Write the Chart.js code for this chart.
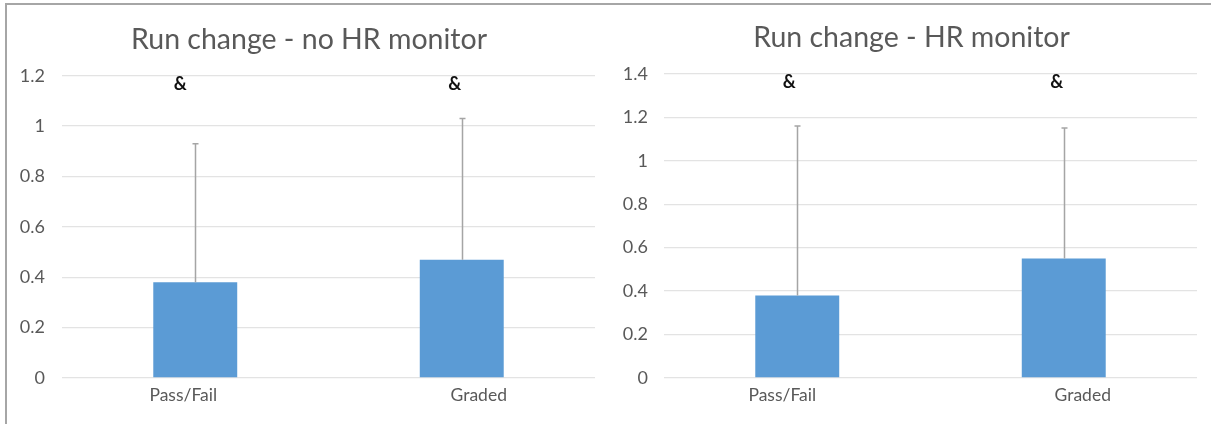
<!DOCTYPE html>
<html>
<head>
<meta charset="utf-8">
<script src="https://cdn.jsdelivr.net/npm/chart.js@4/dist/chart.umd.min.js"></script>
<style>
  html, body { margin: 0; padding: 0; background: #fff; width: 1211px; height: 424px; overflow: hidden; position: relative; }
  .frame { position: absolute; box-sizing: border-box; background: #fff; }
  #frameL { left: 5px; top: 3px; width: 608px; height: 423px; border-left: 2px solid #a6a6a6; border-top: 2px solid #a6a6a6; border-right: 2px solid #9a9a9a; border-bottom: 1px solid #d0d0d0; }
  #frameR { left: 611px; top: 3px; width: 610px; height: 423px; border-top: 2px solid #a6a6a6; border-bottom: 1px solid #d0d0d0; }
  canvas { position: absolute; }
  #chartL { left: 7px; top: 6px; }
  #chartR { left: 613px; top: 6px; }
</style>
</head>
<body>
<div class="frame" id="frameL"></div>
<div class="frame" id="frameR"></div>
<canvas id="chartL" width="604" height="418" style="width:604px;height:418px"></canvas>
<canvas id="chartR" width="598" height="418" style="width:598px;height:418px"></canvas>
<script>
// Categories and values
const categories = ['Pass/Fail', 'Graded'];

const titleNoHR = 'Run change - no HR monitor';
const meanNoHR = [0.38, 0.47];
const sdNoHR = [0.55, 0.56];
const markNoHR = ['&', '&'];
const yMaxNoHR = 1.2;

const titleHR = 'Run change - HR monitor';
const meanHR = [0.38, 0.55];
const sdHR = [0.78, 0.60];
const markHR = ['&', '&'];
const yMaxHR = 1.4;

const yStep = 0.2;

const FONT = 'Lato, "Open Sans", sans-serif';
const GREY_TEXT = '#595959';

// Upper error bars drawn from the y scale
const errorBarPlugin = {
  id: 'errorBars',
  afterDatasetsDraw(chart, args, opts) {
    const meta = chart.getDatasetMeta(0);
    const y = chart.scales.y;
    const ctx = chart.ctx;
    ctx.save();
    ctx.strokeStyle = opts.color;
    ctx.lineWidth = opts.width;
    meta.data.forEach((bar, i) => {
      const v = chart.data.datasets[0].data[i];
      const top = y.getPixelForValue(v + opts.errors[i]);
      const base = y.getPixelForValue(v);
      const x = Math.round(bar.x) + 0.5;
      ctx.beginPath();
      ctx.moveTo(x, base);
      ctx.lineTo(x, top);
      ctx.moveTo(x - opts.cap, top);
      ctx.lineTo(x + opts.cap, top);
      ctx.stroke();
    });
    ctx.restore();
  }
};

// Category names and significance marks placed from the x scale
const labelPlugin = {
  id: 'catLabels',
  afterDraw(chart, args, opts) {
    const xs = chart.scales.x;
    const area = chart.chartArea;
    const ctx = chart.ctx;
    ctx.save();
    ctx.textAlign = 'center';
    ctx.textBaseline = 'middle';
    chart.data.labels.forEach((lab, i) => {
      const cx = xs.getPixelForTick(i);
      ctx.font = opts.labelFont;
      ctx.fillStyle = GREY_TEXT;
      ctx.fillText(lab, cx + opts.labelShift[i], area.bottom + opts.labelGap);
      ctx.font = opts.markFont;
      ctx.fillStyle = '#111';
      ctx.fillText(opts.marks[i], cx + opts.markShift[i], area.top + opts.markGap);
    });
    ctx.restore();
  }
};

function makePanel(id, title, means, sds, marks, yMax, cfg) {
  return new Chart(document.getElementById(id), {
    type: 'bar',
    data: {
      labels: categories,
      datasets: [{
        data: means,
        backgroundColor: '#5b9bd5',
        borderWidth: 0,
        barPercentage: 0.315,
        categoryPercentage: 1
      }]
    },
    options: {
      responsive: false,
      animation: false,
      layout: { padding: { left: 0, right: cfg.padRight, top: 0, bottom: 0 } },
      plugins: {
        legend: { display: false },
        tooltip: { enabled: false },
        title: {
          display: true,
          text: title,
          color: GREY_TEXT,
          font: { family: FONT, size: 28.5, weight: 'normal', lineHeight: 1.15 },
          padding: { top: cfg.titleTop, bottom: cfg.titleBottom }
        },
        errorBars: { errors: sds, color: '#a5a5a5', width: 1.5, cap: 3 },
        catLabels: {
          labelShift: cfg.labelShift,
          markShift: cfg.markShift,
          marks: marks,
          labelGap: 17,
          markGap: 8,
          labelFont: '17.5px ' + FONT,
          markFont: 'bold 18px ' + FONT
        }
      },
      scales: {
        x: {
          grid: { display: false },
          border: { display: false },
          ticks: { display: false },
          afterFit(s) { s.height = 46; }
        },
        y: {
          min: 0,
          max: yMax,
          ticks: {
            stepSize: yStep,
            color: GREY_TEXT,
            padding: cfg.tickPad,
            font: { family: FONT, size: 18 },
            callback: (v) => String(Number(v.toFixed(1)))
          },
          grid: { color: '#e3e3e3', lineWidth: 1.3, drawTicks: false },
          border: { display: false },
          afterFit(s) { s.width = cfg.axisWidth; }
        },
        // empty right-hand margin strip
        yRight: {
          type: 'linear',
          position: 'right',
          min: 0,
          max: yMax,
          ticks: { display: false },
          grid: { display: false, drawTicks: false },
          border: { display: false },
          afterFit(s) { s.width = cfg.rightWidth; }
        }
      }
    },
    plugins: [errorBarPlugin, labelPlugin]
  });
}

makePanel('chartL', titleNoHR, meanNoHR, sdNoHR, markNoHR, yMaxNoHR, {
  padRight: 0, rightWidth: 16, axisWidth: 55, tickPad: 17, titleTop: 17, titleBottom: 20,
  labelShift: [-12, 17], markShift: [-15, -7]
});
makePanel('chartR', titleHR, meanHR, sdHR, markHR, yMaxHR, {
  padRight: 1, rightWidth: 13, axisWidth: 51, tickPad: 16, titleTop: 15, titleBottom: 20,
  labelShift: [-15, 19], markShift: [-8, -7]
});
</script>
</body>
</html>
